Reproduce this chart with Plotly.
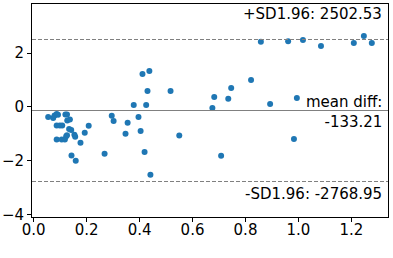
import plotly.graph_objects as go

# Bland-Altman: means (x) and differences (y, in thousands)
mean_vals = [0.055, 0.074, 0.079, 0.087, 0.092, 0.087, 0.099, 0.108, 0.087, 0.106,
             0.118, 0.123, 0.126, 0.120, 0.126, 0.127, 0.137, 0.134, 0.142, 0.143,
             0.154, 0.157, 0.159, 0.177, 0.193, 0.208, 0.268, 0.295, 0.302, 0.347,
             0.355, 0.378, 0.396, 0.404, 0.411, 0.419, 0.425, 0.430, 0.437, 0.441,
             0.517, 0.550, 0.675, 0.682, 0.708, 0.735, 0.746, 0.821, 0.858, 0.893,
             0.961, 0.983, 0.994, 1.017, 1.085, 1.209, 1.247, 1.277]
diff_vals = [-0.37, -0.41, -0.32, -0.26, -0.29, -0.69, -0.69, -0.69, -1.21, -1.21,
             -1.21, -1.09, -1.05, -0.285, -0.285, -0.50, -0.47, -0.82, -0.86, -1.80,
             -1.03, -1.11, -2.00, -1.33, -0.96, -0.70, -1.74, -0.33, -0.52, -1.00,
             -0.59, 0.07, -0.37, -0.89, 1.22, -1.67, 0.07, 0.59, 1.33, -2.52,
             0.59, -1.06, -0.04, 0.37, -1.81, 0.30, 0.70, 1.00, 2.42, 0.11,
             2.44, -1.19, 0.33, 2.48, 2.26, 2.37, 2.63, 2.37]

mean_diff = -133.21
upper = 2502.53
lower = -2768.95
sd_limit = 1.96
x_ticks = [0.0, 0.2, 0.4, 0.6, 0.8, 1.0, 1.2]
y_ticks = [-4, -2, 0, 2]

scale = 1000.0
std = (upper - mean_diff) / sd_limit
half = 1.5 * sd_limit * std
y_range = [(mean_diff - half) / scale, (mean_diff + half) / scale]
xmin, xmax = min(mean_vals), max(mean_vals)
pad = 0.05 * (xmax - xmin)
x_range = [xmin - pad, xmax + pad]

fig = go.Figure()
fig.add_trace(go.Scatter(x=mean_vals, y=diff_vals, mode="markers",
                         marker=dict(color="#1f77b4", size=6, line=dict(width=0)),
                         showlegend=False))

fig.add_hline(y=mean_diff / scale, line=dict(color="gray", width=1))
fig.add_hline(y=upper / scale, line=dict(color="gray", width=1, dash="4px,2px"))
fig.add_hline(y=lower / scale, line=dict(color="gray", width=1, dash="4px,2px"))

fsize = 15
fig.add_annotation(xref="x domain", yref="y domain", x=0.99, y=0.5,
                   text=f"mean diff:<br>{mean_diff:.2f}", showarrow=False,
                   xanchor="right", yanchor="middle", align="right", yshift=-1,
                   font=dict(size=fsize, color="black"))
fig.add_annotation(xref="x domain", yref="y domain", x=0.99, y=0.07,
                   text=f"-SD{sd_limit}: {lower:.2f}", showarrow=False,
                   xanchor="right", yanchor="bottom", align="right", yshift=-3,
                   font=dict(size=fsize, color="black"))
fig.add_annotation(xref="x domain", yref="y domain", x=0.99, y=0.92,
                   text=f"+SD{sd_limit}: {upper:.2f}", showarrow=False,
                   xanchor="right", yanchor="bottom", align="right", yshift=-4,
                   font=dict(size=fsize, color="black"))

axis_common = dict(showline=True, linecolor="black", linewidth=1, mirror=True,
                   ticks="outside", ticklen=4, tickcolor="black", tickwidth=1,
                   showgrid=False, zeroline=False, automargin=False,
                   tickfont=dict(size=fsize, color="black"))
fig.update_xaxes(range=x_range, tickvals=x_ticks, ticklabelstandoff=-5,
                 ticktext=[f"{v:.1f}" for v in x_ticks], **axis_common)
fig.update_yaxes(range=y_range, tickvals=y_ticks,
                 ticktext=[str(v).replace("-", "\u2212") for v in y_ticks], **axis_common)

fig.update_layout(width=393, height=258, margin=dict(l=32, r=5, t=4, b=41),
                  paper_bgcolor="white", plot_bgcolor="white",
                  font=dict(family="DejaVu Sans", size=fsize, color="black"))

fig.write_html("out.html", config={"displayModeBar": False},
               post_script="document.body.style.margin='0';")
